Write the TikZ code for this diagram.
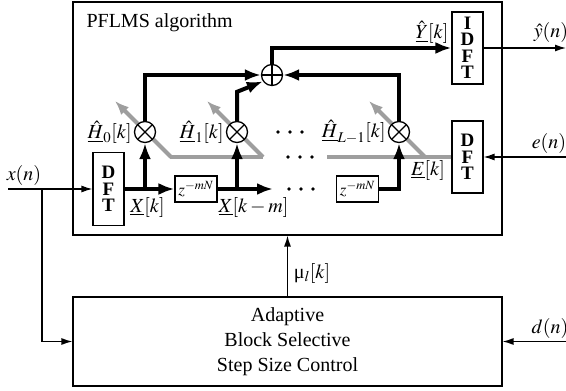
\documentclass[tikz,border=0pt]{standalone}
\usepackage{mathptmx}
\usepackage{fontspec}
\setmainfont{Liberation Serif}
\usetikzlibrary{arrows.meta,calc,positioning}

\tikzset{
  blockbox/.style={draw, line width=1.1pt, fill=white, inner sep=0pt},
  dftbox/.style={blockbox, minimum width=31pt, minimum height=72pt, align=center,
    font=\fontsize{19}{16.5}\selectfont\bfseries},
  delaybox/.style={blockbox, minimum width=42pt, minimum height=26pt,
    font=\fontsize{17}{20}\selectfont},
  opnode/.style={circle, draw, line width=1.3pt, fill=white, minimum size=21pt, inner sep=0pt},
  multnode/.style={opnode, path picture={
    \draw[line width=1.3pt] (path picture bounding box.north west) -- (path picture bounding box.south east)
      (path picture bounding box.north east) -- (path picture bounding box.south west);}},
  sumnode/.style={opnode, path picture={
    \draw[line width=1.3pt] (path picture bounding box.north) -- (path picture bounding box.south)
      (path picture bounding box.west) -- (path picture bounding box.east);}},
  sig/.style={line width=4pt, -{Latex[length=16pt,width=12pt]}},
  wire/.style={line width=1.3pt, -{Latex[length=11pt,width=7pt]}},
  upd/.style={line width=4pt, black!38, -{Latex[length=14pt,width=11pt]}},
  updline/.style={line width=4pt, black!38},
}

\begin{document}
\begin{tikzpicture}[x=1pt, y=-1pt, font=\fontsize{20}{25}\selectfont]
  \useasboundingbox (0,0) rectangle (566,391);
  % frames
  \node[blockbox, minimum width=429pt, minimum height=233pt] (pflms) at (287.5,118.5) {};
  \node[anchor=base west] (title) at (83,27) {PFLMS algorithm};
  \node[blockbox, minimum width=429pt, minimum height=89pt, align=center] (ctrl) at (287.5,341.5)
    {Adaptive\\Block Selective\\Step Size Control};

  % transforms and delays
  \node[dftbox, minimum height=73pt] (dft) at (108.5,189) {D\\F\\T};
  \node[dftbox] (edft) at (467.5,157) {D\\F\\T};
  \node[dftbox] (idft) at (467.5,48) {I\\D\\F\\T};
  \node[delaybox] (zfirst) at (196,189) {$z^{-mN}$};
  \node[delaybox] (zlast) at (357.5,189) {$z^{-mN}$};

  % error path to the taps (gray)
  \coordinate (tap0) at (145,132);
  \coordinate (tap1) at (237,132);
  \coordinate (tapL) at (399,132);
  \draw[updline] ($(tap0)+(25,25)$) -- ($(tap1)+(26,25)$);
  \draw[updline] (edft.west) -- (327,157);
  \foreach \t in {tap0,tap1,tapL}
    \draw[upd] ($(\t)+(26,25)$) -- ($(\t)+(-30,-31)$);

  % taps and adder
  \node[multnode] (mult0) at (tap0) {};
  \node[multnode] (mult1) at (tap1) {};
  \node[multnode] (multL) at (tapL) {};
  \node[sumnode] (sum) at (272,75) {};

  % input side
  \coordinate (xin) at (8,189);
  \coordinate (xsplit) at (42,189);
  \coordinate (xend) at (273,189);
  \draw[wire] (xin) -- (dft.west);
  \draw[wire] (xsplit) |- (ctrl.west);
  \draw[sig] (dft.east) -- (zfirst.west);
  \draw[sig] (tap0 |- dft.east) -- (mult0.south);
  \draw[sig] (zfirst.east) -- (xend);
  \draw[sig] (tap1 |- zfirst.east) -- (mult1.south);
  \draw[sig] (zlast.east) -| (multL.south);

  % tap outputs into the adder
  \draw[sig] (mult0.north) |- (sum.west);
  \draw[sig] (multL.north) |- (sum.east);
  \draw[sig] (mult1.north) -- ++(0,-29) -- (sum.215);
  \draw[sig] (sum.north) |- (idft.west);

  % outer signals
  \coordinate (yout) at (566,48);
  \coordinate (ein) at (566,157);
  \coordinate (din) at (566,341.5);
  \draw[wire] (idft.east) -- (yout);
  \draw[wire] (ein) -- (edft.east);
  \draw[wire] (din) -- (ctrl.east);
  \draw[wire] (ctrl.north) -- (pflms.south);

  % dots between the taps
  \foreach \cx/\cy in {290/132, 300/157, 301/189}
    \foreach \dx in {-12,0,12}
      \fill (\cx+\dx,\cy) circle (1.8pt);

  % labels
  \node (xlbl) at (24,175) {$x(n)$};
  \node (ylbl) at (551,32) {$\hat{y}(n)$};
  \node (elbl) at (549,143) {$e(n)$};
  \node (dlbl) at (550,328) {$d(n)$};
  \node (mulbl) at (312,273) {μ$_l[k]$};
  \node[anchor=east, inner sep=2pt] (h0lbl) at (mult0.west) {$\underline{\hat{H}}_0[k]$};
  \node[anchor=east, inner sep=2pt] (h1lbl) at (mult1.west) {$\underline{\hat{H}}_1[k]$};
  \node[anchor=east, inner sep=2pt] (hLlbl) at (multL.west) {$\underline{\hat{H}}_{L-1}[k]$};
  \node (Xlbl) at (147.5,207) {$\underline{X}[k]$};
  \node (Xmlbl) at (253.5,207) {$\underline{X}[k-m]$};
  \node (Elbl) at (428,170) {$\underline{E}[k]$};
  \node (Ylbl) at (432,32) {$\underline{\hat{Y}}[k]$};
\end{tikzpicture}
\end{document}
